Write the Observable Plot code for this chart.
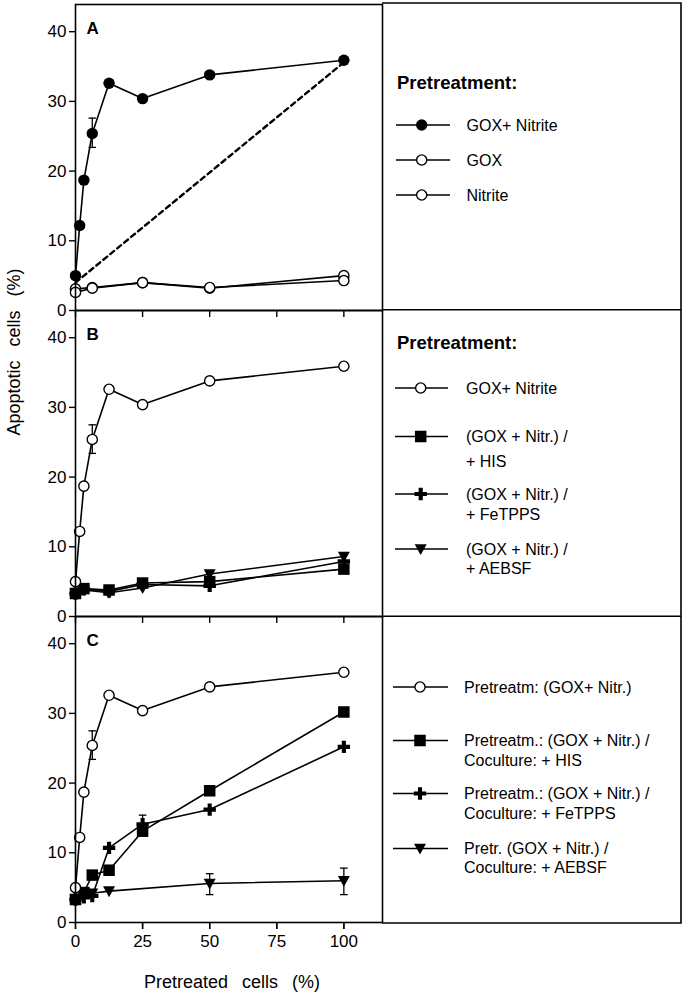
<!DOCTYPE html>
<html><head><meta charset="utf-8">
<script src="https://cdn.jsdelivr.net/npm/d3@7"></script>
<script src="https://cdn.jsdelivr.net/npm/@observablehq/plot@0.6"></script>
<style>
body{margin:0;background:#fff}
#wrap{position:relative;width:688px;height:995px;overflow:hidden}
#wrap svg{position:absolute;left:0;top:0}
</style>
</head><body><div id="wrap"></div>
<script>
// ---------- data ----------
const panels = ["A","B","C"];
const xTicks = [0,25,50,75,100];
const yTicks = [0,10,20,30,40];

// Panel A
const xFull = [0,1.56,3.125,6.25,12.5,25,50,100];
const gn = [5.0,12.2,18.7,25.4,32.6,30.4,33.8,35.9];      // GOX + Nitrite
const xCtrl = [0,6.25,25,50,100];
const gox = [3.1,3.3,4.0,3.2,5.0];
const nitrite = [2.6,3.2,4.0,3.3,4.3];
const dashX = [0,100];
const dashY = [4.0,35.6];

// Panel B
const xB = [0,3.125,12.5,25,50,100];
const bHis = [3.3,4.0,3.8,4.8,5.0,6.8];
const bFe  = [3.3,3.9,3.6,4.6,4.4,7.9];
const bAeb = [3.3,3.8,3.4,4.1,6.1,8.6];

// Panel C
const xC = [0,3.125,6.25,12.5,25,50,100];
const cHis = [3.3,4.3,6.8,7.5,13.1,18.9,30.2];
const cFe  = [3.3,3.6,3.8,10.7,14.1,16.2,25.2];
const xCAeb = [0,6.25,12.5,50,100];
const cAeb = [3.3,4.2,4.5,5.6,6.0];

// Error bars
const errPanel = ["A","B","C","C","C","C"];
const errX  = [6.25,6.25,6.25,25,50,100];
const errLo = [23.4,23.4,23.4,12.8,4.0,4.0];
const errHi = [27.6,27.5,27.5,15.4,7.0,7.8];

// Legend texts
const legendTitle = "Pretreatment:";
const legA = [["GOX+ Nitrite"],["GOX"],["Nitrite"]];
const legB = [["GOX+ Nitrite"],["(GOX + Nitr.) /","+ HIS"],["(GOX + Nitr.) /","+ FeTPPS"],["(GOX + Nitr.) /","+ AEBSF"]];
const legC = [["Pretreatm: (GOX+ Nitr.)"],["Pretreatm.: (GOX + Nitr.) /","Coculture: + HIS"],["Pretreatm.: (GOX + Nitr.) /","Coculture: + FeTPPS"],["Pretr. (GOX + Nitr.) /","Coculture: + AEBSF"]];
const xLabel = "Pretreated cells (%)";
const yLabel = "Apoptotic cells (%)";

// ---------- symbols ----------
const triDown = {draw(ctx, size){ const r = Math.sqrt(size/Math.PI); ctx.moveTo(-r,-r*0.8); ctx.lineTo(r,-r*0.8); ctx.lineTo(0,r*1.0); ctx.closePath(); }};
const capSym = {draw(ctx, size){ const r = Math.sqrt(size/Math.PI); ctx.moveTo(-r,0); ctx.lineTo(r,0); }};
const SYM = {openC: d3.symbolCircle, fillC: d3.symbolCircle, square: d3.symbolSquare, cross: d3.symbolCross, tri: triDown};
const SYMR = {openC: 5.1, fillC: 5.7, square: 6.5, cross: 5.2, tri: 6.0};

const series = [
  {panel:"A", xs:xCtrl, ys:gox, sym:"openC"},
  {panel:"A", xs:xCtrl, ys:nitrite, sym:"openC"},
  {panel:"A", xs:xFull, ys:gn, sym:"fillC"},
  {panel:"B", xs:xB, ys:bHis, sym:"square"},
  {panel:"B", xs:xB, ys:bFe, sym:"cross"},
  {panel:"B", xs:xB, ys:bAeb, sym:"tri"},
  {panel:"B", xs:xFull, ys:gn, sym:"openC"},
  {panel:"C", xs:xC, ys:cHis, sym:"square"},
  {panel:"C", xs:xC, ys:cFe, sym:"cross"},
  {panel:"C", xs:xCAeb, ys:cAeb, sym:"tri"},
  {panel:"C", xs:xFull, ys:gn, sym:"openC"}
];
const rowsOf = s => s.xs.map((x,i) => ({panel:s.panel, x, y:s.ys[i]}));
const errRows = errX.map((x,i) => ({panel:errPanel[i], x, lo:errLo[i], hi:errHi[i]}));
const dashRows = dashX.map((x,i) => ({panel:"A", x, y:dashY[i]}));

const FONT = "'Liberation Sans', Arial, Helvetica, sans-serif";

const marks = [
  Plot.axisY({ticks:yTicks, tickSize:6, tickPadding:3, label:null, strokeWidth:1.4}),
  Plot.axisX({ticks:xTicks, facetAnchor:null, tickSize:7, tickFormat:()=>"", label:null, strokeWidth:1.4}),
  Plot.axisX({ticks:xTicks, tickSize:7, tickPadding:5, label:null, strokeWidth:1.4}),
  Plot.line(dashRows, {x:"x", y:"y", fy:"panel", stroke:"black", strokeWidth:2.4, strokeDasharray:"5,4"})
];
series.forEach(s => marks.push(Plot.line(rowsOf(s), {x:"x", y:"y", fy:"panel", stroke:"black", strokeWidth:1.6})));
marks.push(Plot.ruleX(errRows, {x:"x", y1:"lo", y2:"hi", fy:"panel", stroke:"black", strokeWidth:1.3}));
marks.push(Plot.dot(errRows, {x:"x", y:"hi", fy:"panel", symbol:capSym, r:3.8, fill:"none", stroke:"black", strokeWidth:1.3}));
marks.push(Plot.dot(errRows, {x:"x", y:"lo", fy:"panel", symbol:capSym, r:3.8, fill:"none", stroke:"black", strokeWidth:1.3}));
series.forEach(s => {
  const open = s.sym === "openC";
  marks.push(Plot.dot(rowsOf(s), {x:"x", y:"y", fy:"panel", symbol:SYM[s.sym], r:SYMR[s.sym],
    fill: open ? "white" : "black", stroke: open ? "black" : "none", strokeWidth: open ? 1.4 : 0}));
});
marks.push(Plot.frame({stroke:"black", strokeWidth:1.6}));
marks.push(Plot.text(panels, {fy:d=>d, text:d=>d, frameAnchor:"top-left", dx:11, dy:17, fontWeight:"bold", fontSize:17}));

const chart = Plot.plot({
  width:688, height:995,
  marginTop:3, marginBottom:72, marginLeft:75, marginRight:306,
  x:{domain:[0,114.4], axis:null},
  y:{domain:[0,43.9], axis:null},
  fy:{domain:panels, padding:0, axis:null},
  style:{fontFamily:FONT, fontSize:"17px", color:"black", background:"white", overflow:"visible"},
  marks
});
const wrap = document.getElementById("wrap");
wrap.appendChild(chart);

// ---------- legend / labels overlay ----------
const ov = d3.create("svg").attr("width",688).attr("height",995)
  .style("font-family", FONT).style("overflow","visible");
ov.append("path").attr("d","M382,3H681V923H382M382,309.7H681M382,616.3H681")
  .attr("fill","none").attr("stroke","black").attr("stroke-width",1.6);

function legend(title, titleY, entries, rowY, line2dy, lx1, lx2, mx, tx, syms){
  if (title) ov.append("text").attr("x",397).attr("y",titleY).attr("font-weight","bold")
    .attr("font-size",18.5).text(title);
  entries.forEach((lines,i)=>{
    const y = rowY[i];
    ov.append("line").attr("x1",lx1).attr("x2",lx2).attr("y1",y).attr("y2",y)
      .attr("stroke","black").attr("stroke-width",1.5);
    const k = syms[i]; const open = k==="openC"; const r = SYMR[k];
    ov.append("path").attr("transform",`translate(${mx},${y})`)
      .attr("d", d3.symbol().type(SYM[k]).size(Math.PI*r*r)())
      .attr("fill", open ? "white" : "black").attr("stroke", open ? "black" : "none").attr("stroke-width",1.4);
    lines.forEach((t,j)=>{
      ov.append("text").attr("x",tx).attr("y", y + j*line2dy[i]).attr("dy","0.36em")
        .attr("font-size",16).text(t);
    });
  });
}
legend(legendTitle, 89, legA, [125,160,195], [0,0,0], 396, 450, 421.7, 466.5, ["fillC","openC","openC"]);
legend(legendTitle, 349, legB, [388,436.5,494,549], [0,25,20,19], 395, 448, 420.7, 466, ["openC","square","cross","tri"]);
legend(null, 0, legC, [687,740.5,793.5,848.5], [0,19.5,19.5,19], 393, 448, 420, 464, ["openC","square","cross","tri"]);

ov.append("text").attr("x",232).attr("y",988).attr("text-anchor","middle")
  .attr("font-size",18).attr("word-spacing","9px").text(xLabel);
ov.append("text").attr("transform","translate(20,352) rotate(-90)").attr("text-anchor","middle")
  .attr("font-size",18).attr("word-spacing","9px").text(yLabel);

wrap.appendChild(ov.node());
</script>
</body></html>
